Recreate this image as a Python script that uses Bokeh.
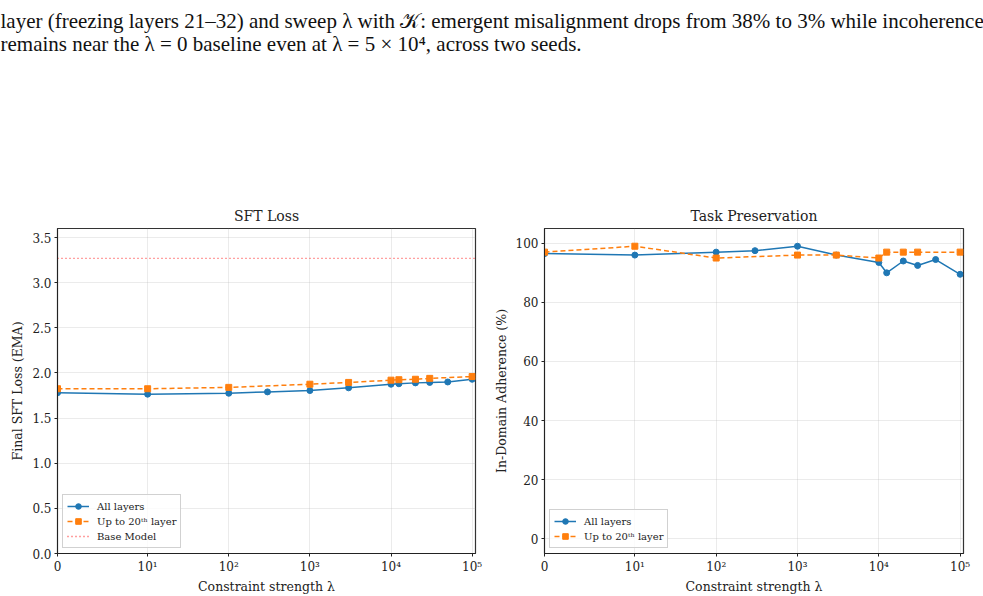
import numpy as np
from bokeh.plotting import figure
from bokeh.layouts import column, row
from bokeh.models import Label, FixedTicker, PrintfTickFormatter, Range1d
from bokeh.embed import file_html
from bokeh.resources import INLINE

# ---------------- data ----------------
caption_lines = [
    "layer (freezing layers 21\u201332) and sweep \u03bb with \U0001D4A6: emergent misalignment drops from 38% to 3% while incoherence",
    "remains near the \u03bb = 0 baseline even at \u03bb = 5 \u00d7 10\u2074, across two seeds.",
]
lam_all = [0, 10, 100, 300, 1000, 3000, 10000, 12500, 20000, 30000, 50000, 100000]
lam_l20 = [0, 10, 100, 1000, 3000, 10000, 12500, 20000, 30000, 100000]

sft_all = [1.78, 1.765, 1.775, 1.79, 1.805, 1.835, 1.875, 1.88, 1.89, 1.895, 1.90, 1.93]
sft_l20 = [1.825, 1.825, 1.84, 1.875, 1.895, 1.92, 1.925, 1.93, 1.94, 1.96]
base_sft = 3.27

tp_all = [96.5, 96, 97, 97.5, 99, 96, 93.5, 90, 94, 92.5, 94.5, 89.5]
tp_l20 = [97, 99, 95, 96, 96, 95, 97, 97, 97, 97]

x_tick_vals = [0, 10, 100, 1000, 10000, 100000]
x_tick_labels = ["0", "10\u00b9", "10\u00b2", "10\u00b3", "10\u2074", "10\u2075"]
sft_ticks = [0.0, 0.5, 1.0, 1.5, 2.0, 2.5, 3.0, 3.5]
tp_ticks = [0, 20, 40, 60, 80, 100]

labels = ["All layers", "Up to 20\u1d57\u02b0 layer", "Base Model"]
titles = ["SFT Loss", "Task Preservation"]
ylabels = ["Final SFT Loss (EMA)", "In-Domain Adherence (%)"]
xlabel = "Constraint strength \u03bb"

BLUE = "#1f77b4"
ORANGE = "#ff7f0e"
FONT = "DejaVu Serif"

# symlog transform (linthresh=10, linscale=1, base 10)
LINTHRESH = 10.0
LINSCALE_ADJ = 1.0 / (1.0 - 1.0 / 10.0)


def symlog(x):
    x = np.asarray(x, dtype=float)
    return np.where(x <= LINTHRESH, x / LINTHRESH * LINSCALE_ADJ,
                    LINSCALE_ADJ + np.log10(np.maximum(x, LINTHRESH) / LINTHRESH))


X_LO, X_HI = 0.0, 1.1e5


def make_panel(title, ylabel, yrange, yticks, yfmt, w, h, bl, br, a_vals, b_vals, base=None):
    p = figure(width=w, height=h, output_backend="svg", toolbar_location=None,
               x_range=Range1d(float(symlog(X_LO)), float(symlog(X_HI))),
               y_range=Range1d(*yrange),
               min_border_left=bl, min_border_right=br, min_border_top=28, min_border_bottom=43)
    p.title.text = title
    p.title.align = "center"
    p.title.text_font = FONT
    p.title.text_font_size = "14px"
    p.title.text_font_style = "normal"
    p.title.text_color = "#222222"
    p.title.offset = 0

    p.outline_line_color = "#333333"
    p.outline_line_width = 1.2

    for ax in (p.xaxis[0], p.yaxis[0]):
        ax.major_label_text_font = FONT
        ax.major_label_text_font_size = "12px"
        ax.major_label_text_color = "#222222"
        ax.axis_label_text_font = FONT
        ax.axis_label_text_font_size = "12.5px"
        ax.axis_label_text_font_style = "normal"
        ax.axis_label_text_color = "#222222"
        ax.major_tick_in = 0
        ax.major_tick_out = 3
        ax.minor_tick_line_color = None
        ax.axis_line_color = "#222222"
        ax.major_tick_line_color = "#222222"
        ax.axis_label_standoff = 4
        ax.major_label_standoff = 3

    tv = [float(v) for v in symlog(x_tick_vals)]
    p.xaxis.ticker = FixedTicker(ticks=tv)
    p.xaxis.major_label_overrides = {v: s for v, s in zip(tv, x_tick_labels)}
    p.xaxis.axis_label = xlabel
    p.xaxis.axis_label_standoff = 2
    p.yaxis.ticker = FixedTicker(ticks=yticks)
    p.yaxis.formatter = PrintfTickFormatter(format=yfmt)
    p.yaxis.axis_label = ylabel

    p.xgrid.ticker = FixedTicker(ticks=tv)
    p.xgrid.grid_line_color = "#b0b0b0"
    p.ygrid.grid_line_color = "#b0b0b0"
    p.xgrid.grid_line_alpha = 0.25
    p.ygrid.grid_line_alpha = 0.25

    xa = symlog(lam_all)
    xb = symlog(lam_l20)
    p.line(xa, a_vals, color=BLUE, line_width=1.5, legend_label=labels[0])
    p.scatter(xa, a_vals, marker="circle", size=6, color=BLUE, legend_label=labels[0])
    p.line(xb, b_vals, color=ORANGE, line_width=1.5, line_dash="5 3", legend_label=labels[1])
    p.scatter(xb, b_vals, marker="square", size=6, color=ORANGE, legend_label=labels[1])
    if base is not None:
        p.line([float(symlog(X_LO)), float(symlog(X_HI))], [base, base], color="red", alpha=0.75,
               line_width=1.3, line_dash="1 3", legend_label=labels[2])

    lg = p.legend[0]
    lg.location = "bottom_left"
    lg.margin = 5
    lg.padding = 4
    lg.spacing = 1
    lg.label_text_font = FONT
    lg.label_text_font_size = "10px"
    lg.label_text_color = "#222222"
    lg.glyph_width = 22
    lg.glyph_height = 14
    lg.label_standoff = 8
    lg.label_height = 14
    lg.border_line_color = "#cccccc"
    lg.border_line_alpha = 0.9
    lg.background_fill_alpha = 0.8
    return p


p1 = make_panel(titles[0], ylabels[0], (0.0, 3.6), sft_ticks, "%.1f", 490, 396, 57, 15,
                sft_all, sft_l20, base_sft)
p2 = make_panel(titles[1], ylabels[1], (-5.0, 105.0), tp_ticks, "%d", 493, 396, 54, 20,
                tp_all, tp_l20)

cap = figure(width=983, height=200, output_backend="svg", toolbar_location=None,
             x_range=Range1d(0, 983), y_range=Range1d(0, 200),
             min_border=0, outline_line_color=None)
cap.axis.visible = False
cap.grid.visible = False
for i, line in enumerate(caption_lines):
    cap.add_layout(Label(x=0, y=200 - 20 - 23.5 * i, x_units="screen", y_units="screen", text=line,
                         text_font="Liberation Serif", text_font_size="21px",
                         text_color="#111111", text_baseline="alphabetic"))
cap.rect([], [], width=1, height=1)

layout = column(cap, row(p1, p2, spacing=0), spacing=0)
open("out.html", "w").write(file_html(layout, INLINE))
